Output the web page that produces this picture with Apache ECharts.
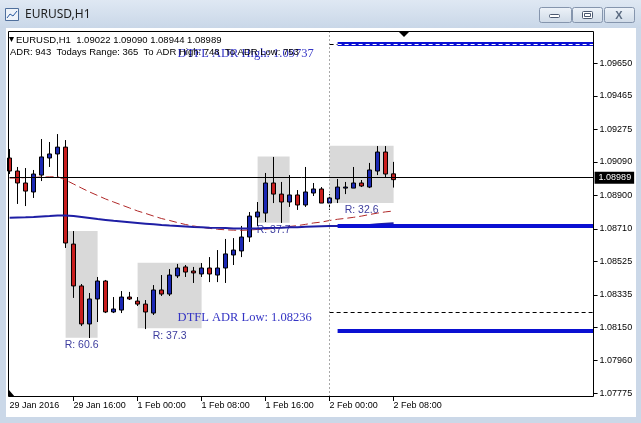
<!DOCTYPE html>
<html><head><meta charset="utf-8">
<script src="https://cdn.jsdelivr.net/npm/echarts@6/dist/echarts.min.js"></script>
<style>html,body{margin:0;padding:0;background:#fff}#c{width:641px;height:423px}</style>
</head><body><div id="c"></div>
<script>
// ---------- data ----------
const categories = [
 '29 Jan 08:00','29 Jan 09:00','29 Jan 10:00','29 Jan 11:00','29 Jan 12:00','29 Jan 13:00','29 Jan 14:00','29 Jan 15:00',
 '29 Jan 16:00','29 Jan 17:00','29 Jan 18:00','29 Jan 19:00','29 Jan 20:00','29 Jan 21:00','29 Jan 22:00','29 Jan 23:00',
 '1 Feb 00:00','1 Feb 01:00','1 Feb 02:00','1 Feb 03:00','1 Feb 04:00','1 Feb 05:00','1 Feb 06:00','1 Feb 07:00',
 '1 Feb 08:00','1 Feb 09:00','1 Feb 10:00','1 Feb 11:00','1 Feb 12:00','1 Feb 13:00','1 Feb 14:00','1 Feb 15:00',
 '1 Feb 16:00','1 Feb 17:00','1 Feb 18:00','1 Feb 19:00','1 Feb 20:00','1 Feb 21:00','1 Feb 22:00','1 Feb 23:00',
 '2 Feb 00:00','2 Feb 01:00','2 Feb 02:00','2 Feb 03:00','2 Feb 04:00','2 Feb 05:00','2 Feb 06:00','2 Feb 07:00',
 '2 Feb 08:00','2 Feb 09:00','2 Feb 10:00','2 Feb 11:00','2 Feb 12:00','2 Feb 13:00','2 Feb 14:00','2 Feb 15:00',
 '2 Feb 16:00','2 Feb 17:00','2 Feb 18:00','2 Feb 19:00','2 Feb 20:00','2 Feb 21:00','2 Feb 22:00','2 Feb 23:00',
 '3 Feb 00:00','3 Feb 01:00','3 Feb 02:00','3 Feb 03:00','3 Feb 04:00','3 Feb 05:00','3 Feb 06:00','3 Feb 07:00',
 '3 Feb 08:00','3 Feb 09:00'
];
const openPrices = [1.09112,1.09038,1.08970,1.08919,1.09015,1.09112,1.09135,1.09174,1.08623,1.08385,
 1.08169,1.08311,1.08413,1.08237,1.08248,1.08322,1.08299,1.08282,1.08231,1.08362,
 1.08339,1.08442,1.08493,1.08470,1.08453,1.08487,1.08447,1.08487,1.08561,1.08584,
 1.08663,1.08777,1.08799,1.08970,1.08907,1.08862,1.08902,1.08845,1.08913,1.08936,
 1.08856,1.08879,1.08941,1.08941,1.08970,1.08947,1.09038,1.09146,1.09022];
const highPrices = [1.09163,1.09061,1.09055,1.09044,1.09220,1.09203,1.09248,1.09214,1.08697,1.08396,
 1.08345,1.08436,1.08419,1.08322,1.08356,1.08351,1.08322,1.08305,1.08390,1.08447,
 1.08481,1.08510,1.08504,1.08493,1.08515,1.08549,1.08589,1.08652,1.08657,1.08726,
 1.08805,1.08862,1.09027,1.09118,1.08976,1.09015,1.08930,1.09061,1.08970,1.08947,
 1.08907,1.08993,1.08976,1.09061,1.08987,1.09084,1.09180,1.09180,1.09090];
const lowPrices = [1.09021,1.08851,1.08839,1.08885,1.08981,1.09061,1.09004,1.08601,1.08317,1.08157,
 1.08089,1.08180,1.08231,1.08231,1.08231,1.08305,1.08271,1.08140,1.08220,1.08328,
 1.08328,1.08430,1.08436,1.08402,1.08436,1.08407,1.08407,1.08402,1.08504,1.08549,
 1.08635,1.08726,1.08748,1.08856,1.08743,1.08834,1.08817,1.08834,1.08896,1.08856,
 1.08817,1.08856,1.08907,1.08941,1.08947,1.08941,1.09015,1.09004,1.08944];
const closePrices = [1.09038,1.08970,1.08924,1.09021,1.09118,1.09135,1.09174,1.08629,1.08385,1.08169,
 1.08311,1.08413,1.08237,1.08254,1.08322,1.08311,1.08282,1.08237,1.08362,1.08339,
 1.08447,1.08487,1.08464,1.08459,1.08487,1.08453,1.08487,1.08567,1.08589,1.08663,
 1.08782,1.08805,1.08970,1.08907,1.08862,1.08902,1.08845,1.08919,1.08936,1.08856,
 1.08885,1.08947,1.08947,1.08970,1.08953,1.09044,1.09146,1.09021,1.08989];
const maFast = [1.08998,1.08998,1.09001,1.09002,1.09004,1.09005,1.09006,1.08987,1.08964,1.08941,
 1.08919,1.08899,1.08879,1.08862,1.08845,1.08828,1.08811,1.08797,1.08782,1.08768,
 1.08757,1.08745,1.08734,1.08726,1.08718,1.08712,1.08707,1.08704,1.08702,1.08701,
 1.08703,1.08706,1.08708,1.08712,1.08717,1.08723,1.08728,1.08735,1.08743,1.08748,
 1.08757,1.08764,1.08769,1.08775,1.08782,1.08791,1.08799,1.08806,1.08811];
const maSlow = [1.08773,1.08774,1.08775,1.08777,1.08780,1.08782,1.08785,1.08785,1.08782,1.08777,
 1.08771,1.08765,1.08760,1.08755,1.08751,1.08747,1.08743,1.08739,1.08735,1.08731,
 1.08728,1.08726,1.08723,1.08720,1.08718,1.08716,1.08715,1.08714,1.08712,1.08712,
 1.08712,1.08712,1.08714,1.08715,1.08716,1.08718,1.08719,1.08721,1.08723,1.08724,
 1.08725,1.08726,1.08727,1.08728,1.08730,1.08732,1.08735,1.08738,1.08741];
const yTickLabels = ['1.09650','1.09465','1.09275','1.09090','1.08900','1.08710','1.08525','1.08335','1.08150','1.07960','1.07775'];
const xTickIndex = [0,8,16,24,32,40,48];
const xTickLabels = ['29 Jan 2016','29 Jan 16:00','1 Feb 00:00','1 Feb 08:00','1 Feb 16:00','2 Feb 00:00','2 Feb 08:00'];
const boxStart = [7,16,31,40];
const boxEnd = [11,24,35,48];
const boxHigh = [1.08697,1.08517,1.09121,1.09182];
const boxLow = [1.08091,1.08144,1.08744,1.08856];
const boxLabels = ['R: 60.6','R: 37.3','R: 37.7','R: 32.6'];
const separatorIndex = 40;
const dashedLevels = [1.09760,1.08236];
const thickLevels = [1.09760,1.08726,1.08131];
const dashedStart = 40, thickStart = 41, levelEnd = 73;
const adrTexts = ['DTFL ADR High: 1.09737','DTFL ADR Low: 1.08236'];
const adrTextLevels = [1.09737,1.08236];
const adrTextIndex = 21;
const headerLine2 = 'ADR: 943  Todays Range: 365  To ADR High: 748  To ADR Low: 753';
const yMin = 1.07754, yMax = 1.09828;

// ---------- chart ----------
const yTickValues = yTickLabels.map(Number);
const last = closePrices.length - 1;
const headerLine1 = 'EURUSD,H1  ' + [openPrices[last],highPrices[last],lowPrices[last],closePrices[last]].map(v=>v.toFixed(5)).join(' ');
const chart = echarts.init(document.getElementById('c'), null, {renderer:'canvas'});
const lvl = (start, v, style) => [{coord:[categories[start], v], lineStyle:style},{coord:[categories[levelEnd], v]}];
const btnFill = new echarts.graphic.LinearGradient(0,0,0,1,[{offset:0,color:'#eef3f9'},{offset:1,color:'#cfdae7'}]);
const option = {
  animation:false,
  backgroundColor:'#cbd8e8',
  textStyle:{fontFamily:'Liberation Sans'},
  grid:{left:9.6, right:47.4, top:32, bottom:26},
  xAxis:{type:'category', data:categories, boundaryGap:false,
    axisLine:{show:false}, splitLine:{show:false},
    axisTick:{show:true, length:4, interval:(i)=>xTickIndex.indexOf(i)>0, lineStyle:{color:'#000'}},
    axisLabel:{interval:(i)=>xTickIndex.includes(i), formatter:(v,i)=>xTickLabels[xTickIndex.indexOf(i)],
      align:'left', margin:4, fontSize:9, color:'#000', fontFamily:'Liberation Sans'}},
  yAxis:{type:'value', position:'right', min:yMin, max:yMax,
    axisLine:{show:false}, splitLine:{show:false},
    axisTick:{show:true, length:4, customValues:yTickValues, lineStyle:{color:'#000'}},
    axisLabel:{customValues:yTickValues, formatter:(v)=>{const k=yTickValues.indexOf(v);return k>=0?yTickLabels[k]:v.toFixed(5);},
      margin:6, fontSize:9, color:'#000', fontFamily:'Liberation Sans'}},
  series:[
    {type:'line', data:[], z:1, silent:true,
      markArea:{silent:true, itemStyle:{color:'#d9d9d9'},
        label:{show:true, position:'bottom', distance:2, color:'#3d3d9e', fontSize:10.5, fontFamily:'Liberation Sans'},
        data:boxStart.map((s,k)=>[{name:boxLabels[k], coord:[categories[s], boxHigh[k]]},{coord:[categories[boxEnd[k]], boxLow[k]]}])},
      markLine:{silent:true, symbol:'none', label:{show:false}, lineStyle:{color:'#a8a8a8', type:[2,2], width:1},
        data:[{xAxis:categories[separatorIndex]}]}},
    {type:'candlestick', z:2, clip:false, barWidth:5,
      data:openPrices.map((o,i)=>[o, closePrices[i], lowPrices[i], highPrices[i]]),
      itemStyle:{color:'#1b28b4', color0:'#c81e1e', borderColor:'#000', borderColor0:'#000', borderWidth:1}},
    {type:'line', data:maFast, z:3, symbol:'none', silent:true, lineStyle:{color:'#b02828', width:1, type:[8,4]}},
    {type:'line', data:maSlow, z:3, symbol:'none', silent:true, lineStyle:{color:'#1e1ea5', width:2}},
    {type:'line', data:[], z:4, silent:true,
      markLine:{silent:true, symbol:'none', label:{show:false},
        data:[
          ...dashedLevels.map(v=>lvl(dashedStart, v, {color:'#ffffff', width:1, type:'solid'})),
          ...dashedLevels.map(v=>lvl(dashedStart, v, {color:'#000000', width:1, type:[4,3]})),
          ...thickLevels.map(v=>lvl(thickStart, v, {color:'#0a10d2', width:4, type:'solid'})),
          lvl(thickStart, dashedLevels[0], {color:'#ffffff', width:1, type:[4,3]}),
          {yAxis:closePrices[last], lineStyle:{color:'#000', width:1, type:'solid'},
           label:{show:true, position:'end', distance:1, formatter:()=>closePrices[last].toFixed(5),
             backgroundColor:'#000', color:'#fff', padding:[2,3,1,4], fontSize:9, fontFamily:'Liberation Sans'}}
        ]},
      markPoint:{silent:true, symbol:'circle', symbolSize:0,
        data:adrTexts.map((t,k)=>({coord:[categories[adrTextIndex], adrTextLevels[k]], value:t,
          label:{show:true, position:'right', distance:0, offset:[0, 6], formatter:t,
            color:'#3434c4', fontSize:12.5, fontFamily:'Liberation Serif'}}))}}
  ],
  graphic:[
    {type:'rect', z:0, shape:{x:0,y:0,width:641,height:28}, style:{fill:new echarts.graphic.LinearGradient(0,0,0,1,[{offset:0,color:'#dfe8f3'},{offset:1,color:'#c9d7e8'}])}},
    {type:'rect', z:0, shape:{x:6,y:28,width:630,height:389}, style:{fill:'#ffffff'}},
    {type:'rect', z:0, shape:{x:5.5,y:8.5,width:13,height:12}, style:{fill:'#eef3f9', stroke:'#4f6f9c', lineWidth:1}},
    {type:'polyline', z:0, shape:{points:[[7,18],[10,14],[13,16],[17,11]]}, style:{stroke:'#2a5aa0', lineWidth:1, fill:null}},
    {type:'text', z:0, style:{x:25, y:15, text:'EURUSD,H1', fill:'#1e1e1e', font:'12px "Noto Sans"', verticalAlign:'middle'}},
    {type:'rect', z:0, shape:{x:539.5,y:7.5,width:32,height:15,r:2}, style:{fill:btnFill, stroke:'#8595ad', lineWidth:1}},
    {type:'rect', z:0, shape:{x:572.5,y:7.5,width:30,height:15,r:2}, style:{fill:btnFill, stroke:'#8595ad', lineWidth:1}},
    {type:'rect', z:0, shape:{x:604.5,y:7.5,width:30,height:15,r:2}, style:{fill:btnFill, stroke:'#8595ad', lineWidth:1}},
    {type:'rect', z:0, shape:{x:549.5,y:14.5,width:10,height:3,r:1}, style:{fill:'#fff', stroke:'#4a5870', lineWidth:1}},
    {type:'rect', z:0, shape:{x:582.5,y:11.5,width:10,height:7,r:1}, style:{fill:'#fff', stroke:'#4a5870', lineWidth:1}},
    {type:'rect', z:0, shape:{x:584.5,y:13.5,width:6,height:3}, style:{fill:'#fff', stroke:'#4a5870', lineWidth:1}},
    {type:'text', z:0, style:{x:619, y:15.5, text:'X', fill:'#5a6a80', font:'bold 11px "Liberation Sans"', align:'center', verticalAlign:'middle'}},
    {type:'rect', z:10, shape:{x:8.5,y:31.5,width:585,height:365}, style:{fill:null, stroke:'#000', lineWidth:1}},
    {type:'polygon', z:10, shape:{points:[[9,37],[14,37],[11.5,42]]}, style:{fill:'#000'}},
    {type:'text', z:10, style:{x:16, y:40, text:headerLine1, fill:'#000', font:'9.5px "Liberation Sans"', verticalAlign:'middle'}},
    {type:'text', z:9, style:{x:10, y:52, text:headerLine2, fill:'#000', font:'9.5px "Liberation Sans"', verticalAlign:'middle'}},
    {type:'polygon', z:10, shape:{points:[[399,32],[409,32],[404,37]]}, style:{fill:'#000'}},
    {type:'polygon', z:10, shape:{points:[[9,390],[9,397],[15,397]]}, style:{fill:'#000'}}
  ]
};
chart.setOption(option);
</script></body></html>
